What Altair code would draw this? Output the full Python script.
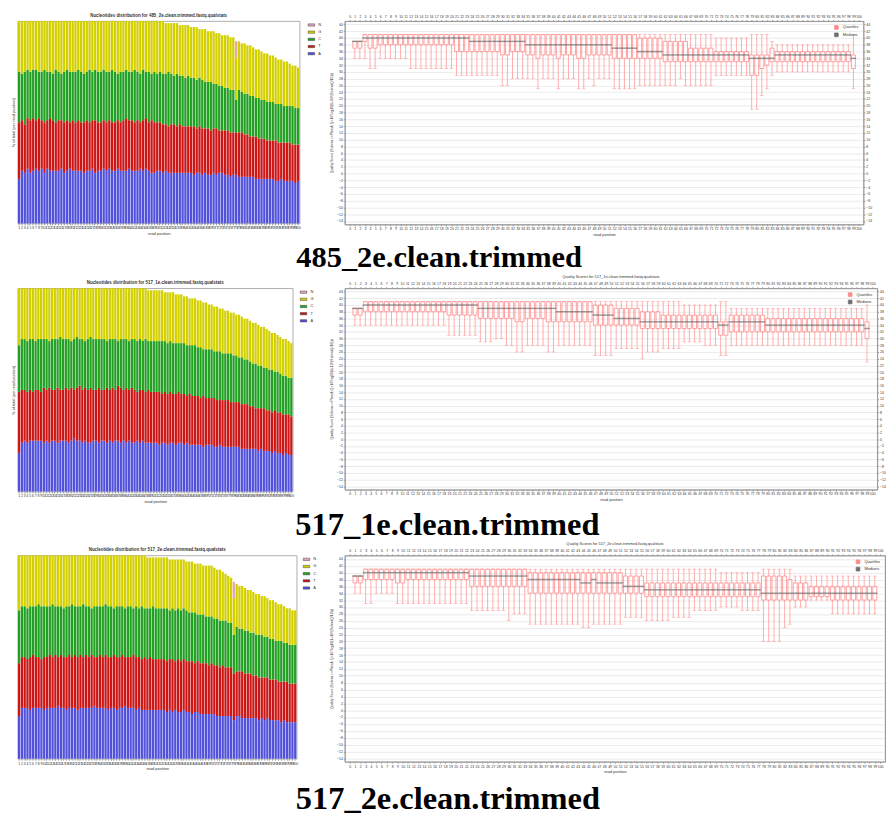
import altair as alt
import pandas as pd

CAPTIONS = ["485_2e.clean.trimmed", "517_1e.clean.trimmed", "517_2e.clean.trimmed"]
NUC_POS = list(range(1, 101))
Q_POS = list(range(1, 100))
Q_XTICKS = list(range(0, 101))
Q_YTICKS = [-14, -12, -10, -8, -6, -4, -2, 0, 2, 4, 6, 8, 10, 12, 14, 16, 18, 20,
            22, 24, 26, 28, 30, 32, 34, 36, 38, 40, 42, 44]
BASE_ORDER = ["N", "G", "C", "T", "A"]
BASE_COLORS = ["#e2a4c2", "#d4d000", "#22a024", "#cc1616", "#5151dc"]

# ---------- nucleotide distribution: cumulative tops (%) per read position ----------
S1_A = [22,26,25,27,25,26,27,26,27,25, 27,26,26,26,26,27,25,26,27,26, 26,26,26,25,26,26,27,25,26,26,
        27,26,27,26,26,27,26,26,26,27, 26,26,26,27,26,27,26,25,25,26, 26,25,26,25,25,25,25,25,25,25,
        25,25,24,25,25,24,25,24,24,25, 24,25,25,24,24,23,24,24,23,23, 23,23,23,23,22,22,22,22,22,22,
        22,21,21,22,21,21,21,21,20,21]
S1_T = [50,51,49,52,51,52,51,52,51,50, 51,52,51,50,51,51,50,51,50,51, 50,51,50,50,51,50,51,51,50,50,
        51,50,51,50,50,51,50,51,52,51, 51,50,51,50,51,52,50,51,50,50, 50,49,49,48,49,49,48,49,48,48,
        48,48,48,47,48,47,47,47,46,47, 47,46,46,46,46,45,45,45,45,45, 44,44,43,43,43,42,42,42,41,41,
        41,41,40,40,40,40,40,39,39,39]
S1_C = [75,74,75,76,75,76,76,75,75,76, 75,75,74,76,75,74,75,76,75,75, 75,76,75,74,75,76,75,76,75,75,
        76,75,75,76,75,74,75,75,76,75, 75,76,75,74,76,75,75,74,75,74, 75,74,74,75,74,73,74,73,73,72,
        73,72,72,71,72,71,70,70,70,69, 69,68,68,67,67,66,66,61,66,65, 64,64,63,63,62,62,61,61,60,60,
        60,59,59,59,58,58,58,58,57,57]
S1_G = [100,100,100,100,100,100,100,100,100,100, 100,100,100,100,100,100,100,100,100,100,
        100,100,100,100,100,100,100,100,100,100, 100,100,100,100,100,100,100,100,100,100,
        100,100,100,100,100,100,100,100,100,100, 100,100,99,99,99,99,99,98,98,98,
        98,97,97,97,96,96,96,95,95,95, 94,94,93,93,93,92,92,82,90,89,
        89,88,88,87,86,86,85,84,84,83, 83,82,81,81,80,80,79,78,78,77]
S1_N = [0,0,0,0,0,0,0,0,0,0, 0,0,0,0,0,0,0,0,0,0, 0,0,0,0,0,0,0,0,0,0, 0,0,0,0,0,0,0,0,0,0,
        0,0,0,0,0,0,0,0,0,0, 0,0,0,0,0,0,0,0,0,0, 0,0,0,0,0,0,0,0,0,0, 0,0,0,0,0,0,0,8,0,0,
        0,0,0,0,0,0,0,0,0,0, 0,0,0,0,0,0,0,0,0,0]

S2_A = [19,24,25,24,25,25,25,25,25,24, 25,24,25,25,24,25,25,25,24,25, 26,25,25,24,25,24,24,25,25,24,
        25,25,24,25,24,25,25,24,25,24, 25,24,24,25,24,25,24,24,24,24, 24,23,24,24,23,24,24,23,24,24,
        23,24,23,23,23,23,23,22,23,23, 23,22,22,23,22,22,22,22,22,22, 22,21,21,21,21,21,21,20,21,20,
        20,20,19,20,19,19,18,19,18,18]
S2_T = [49,50,50,49,50,49,50,50,49,51, 50,51,50,50,51,50,50,51,50,51, 50,51,52,50,51,50,51,50,50,51,
        50,50,51,50,51,50,52,51,50,51, 50,51,50,49,50,50,49,50,49,49, 49,49,48,49,48,49,48,48,49,48,
        48,47,48,47,47,47,46,47,46,46, 46,46,45,45,45,45,45,44,44,44, 44,43,43,43,42,42,41,41,41,41,
        40,40,39,40,39,39,38,38,38,37]
S2_C = [72,75,75,74,75,75,74,75,75,75, 75,74,75,75,75,76,75,75,75,74, 75,76,75,75,74,75,76,75,75,75,
        75,75,74,75,75,75,74,75,75,75, 74,75,75,74,75,74,75,74,74,74, 74,74,74,74,73,74,73,73,73,73,
        73,72,72,72,72,71,71,70,70,70, 70,69,69,69,68,68,68,68,67,67, 66,66,65,65,64,63,63,62,62,61,
        61,60,60,59,59,58,57,57,56,56]
S2_G = [100,100,100,100,100,100,100,100,100,100, 100,100,100,100,100,100,100,100,100,100,
        100,100,100,100,100,100,100,100,100,100, 100,100,100,100,100,100,100,100,100,100,
        100,100,100,100,100,100,100,99,99,99, 99,99,99,98,98,98,98,97,97,97,
        96,96,95,95,95,94,94,93,93,92, 92,91,91,90,90,89,89,88,88,87,
        87,86,85,85,84,83,83,82,81,81, 80,79,78,78,77,76,75,75,74,73]
S2_N = [0,0,0,0,0,0,0,0,0,0, 0,0,0,0,0,0,0,0,0,0, 0,0,0,0,0,0,0,0,0,0, 0,0,0,0,0,0,0,0,0,0,
        0,0,0,0,0,0,0,0,0,0, 0,0,0,0,0,0,0,0,0,0, 0,0,0,0,0,0,0,0,0,0, 0,0,0,0,0,0,0,0,0,0,
        0,0,0,0,0,0,0,0,0,0, 0,0,0,0,0,0,0,0,0,0]

S3_A = [21,25,25,25,24,25,25,25,25,24, 25,25,25,25,26,25,25,24,25,25, 25,24,25,25,25,25,25,26,25,25,
        25,25,24,25,25,24,25,25,26,25, 25,25,24,25,24,24,24,24,24,24, 24,24,24,23,24,23,24,23,23,24,
        23,23,22,23,23,22,22,22,22,22, 22,21,21,21,21,21,21,19,21,21, 20,20,20,20,20,20,19,20,19,20,
        19,19,19,19,18,19,18,18,18,18]
S3_T = [47,50,50,49,50,51,50,50,49,50, 50,51,50,51,50,51,50,50,51,50, 51,50,51,50,51,50,51,50,50,51,
        50,51,50,50,51,50,50,51,50,50, 50,51,50,50,49,50,49,50,49,49, 49,49,49,48,49,49,48,49,48,49,
        48,48,48,47,48,47,47,47,46,47, 46,46,45,46,45,45,45,42,43,43, 43,42,42,42,41,41,40,40,40,40,
        39,39,39,38,38,38,38,37,37,37]
S3_C = [73,75,75,74,75,75,75,76,75,75, 75,75,76,75,75,75,74,75,75,76, 75,75,75,76,75,75,74,75,75,75,
        75,76,75,75,74,75,75,75,74,75, 75,74,75,74,75,74,74,74,75,74, 74,74,74,74,73,74,73,74,73,74,
        73,72,72,72,71,71,71,70,70,70, 69,69,68,68,68,67,67,61,65,64, 64,63,63,62,62,61,61,61,60,60,
        59,59,58,58,58,57,57,56,56,56]
S3_G = [100,100,100,100,100,100,100,100,100,100, 100,100,100,100,100,100,100,100,100,100,
        100,100,100,100,100,100,100,100,100,100, 100,100,100,100,100,100,100,100,100,100,
        100,100,100,100,100,100,99,99,99,99, 99,99,99,99,98,98,98,98,98,98,
        97,97,97,96,96,96,95,95,95,95, 94,93,93,92,91,90,89,79,86,85,
        85,84,83,83,82,81,81,80,80,79, 78,78,77,76,76,75,74,74,73,73]
S3_N = [0,0,0,0,0,0,0,0,0,0, 0,0,0,0,0,0,0,0,0,0, 0,0,0,0,0,0,0,0,0,0, 0,0,0,0,0,0,0,0,0,0,
        0,0,0,0,0,0,0,0,0,0, 0,0,0,0,0,0,0,0,0,0, 0,0,0,0,0,0,0,0,0,0, 0,0,0,0,0,0,0,8,0,0,
        0,0,0,0,0,0,0,0,0,0, 0,0,0,0,0,0,0,0,0,0]

# ---------- quality boxplots: whisker low, Q1, median, Q3, whisker high ----------
Q1_LO = [34,34,34,31,31,34,34,34,34,34, 34,31,31,31,31,31,31,31,31,31, 29,29,29,29,29,29,29,29,29,26,
         26,28,28,28,28,28,25,28,28,28, 25,28,28,28,25,25,28,26,28,28, 28,25,25,25,25,25,26,26,26,26,
         26,26,26,26,28,26,26,26,26,26, 26,29,29,29,29,29,29,29,19,19, 23,25,29,30,30,30,30,30,30,30,
         30,30,30,30,30,30,30,30,25]
Q1_Q1 = [37,37,39,37,37,38,38,38,38,38, 38,38,38,38,38,38,38,38,38,38, 36,36,36,36,36,36,36,36,36,35,
         35,36,36,36,35,35,34,35,35,35, 34,35,35,35,34,34,35,35,35,35, 35,34,34,34,34,34,34,34,34,34,
         34,33,33,33,33,33,33,33,33,33, 33,33,33,33,33,33,33,33,29,29, 31,32,33,33,33,33,33,33,33,33,
         33,33,33,33,33,33,33,33,31]
Q1_MED = [39,39,40,40,40,40,40,40,40,40, 40,40,40,40,40,40,40,40,40,40, 40,40,40,39,39,39,39,39,39,39,
          39,39,39,39,38,38,38,38,38,38, 38,38,38,38,38,38,38,38,38,38, 38,37,37,37,37,37,36,36,36,36,
          36,35,35,35,35,35,35,35,35,35, 35,35,35,35,35,35,35,35,34,34, 34,34,34,35,35,35,35,35,35,35,
          35,35,35,35,35,35,35,35,34]
Q1_Q3 = [39,39,41,41,41,41,41,41,41,41, 41,41,41,41,41,41,41,41,41,41, 41,41,41,41,41,41,41,41,41,41,
         41,41,41,41,41,41,41,41,41,41, 41,41,41,41,41,41,41,41,41,41, 41,41,41,41,41,41,40,40,40,40,
         40,39,39,39,39,39,37,37,37,37, 37,36,36,36,36,36,36,36,35,35, 35,35,37,36,36,36,36,36,36,36,
         36,36,36,36,36,36,36,36,35]
Q1_HI = [39,39,41,41,41,41,41,41,41,41, 41,41,41,41,41,41,41,41,41,41, 41,41,41,41,41,41,41,41,41,41,
         41,41,41,41,41,41,41,41,41,41, 41,41,41,41,41,41,41,41,41,41, 41,41,41,41,41,41,41,41,41,41,
         41,41,41,41,41,41,41,41,41,41, 41,40,40,40,40,40,40,40,41,41, 41,41,39,38,38,38,38,38,38,38,
         38,38,38,38,38,38,38,38,41]

Q2_LO = [34,34,34,34,34,34,34,34,34,34, 34,34,34,34,34,34,34,34,31,31, 31,31,31,31,29,29,29,30,30,28,
         28,26,26,28,28,28,28,26,26,28, 28,28,28,28,28,28,25,25,25,25, 27,27,27,27,27,24,26,26,26,27,
         27,27,27,29,29,29,29,28,28,28, 25,25,28,28,28,28,28,28,28,28, 28,28,28,28,28,28,28,28,28,28,
         28,28,28,28,28,28,28,28,23]
Q2_Q1 = [37,37,38,38,38,38,38,38,38,38, 38,38,38,38,38,38,38,38,37,37, 37,37,37,37,36,36,36,36,36,36,
         36,35,35,36,36,36,36,35,35,35, 35,35,35,35,35,35,34,34,34,34, 34,34,34,34,34,33,33,33,33,33,
         33,33,33,33,33,33,33,33,33,33, 31,31,32,32,32,32,32,32,32,32, 32,32,32,32,32,32,32,32,32,32,
         32,32,32,32,32,32,32,32,30]
Q2_MED = [39,39,40,40,40,40,40,40,40,40, 40,40,40,40,40,40,40,40,40,40, 40,40,40,40,39,39,39,39,39,39,
          39,39,39,39,39,39,39,39,39,38, 38,38,38,38,38,38,37,37,37,37, 36,36,36,36,36,35,35,35,35,35,
          35,35,35,35,35,35,35,35,35,35, 34,34,35,35,35,35,35,35,35,34, 34,34,34,34,34,34,34,34,34,34,
          34,34,34,34,34,34,34,34,33]
Q2_Q3 = [39,39,41,41,41,41,41,41,41,41, 41,41,41,41,41,41,41,41,41,41, 41,41,41,41,41,41,41,41,41,41,
         41,41,41,41,41,41,41,41,41,41, 41,41,41,41,41,41,40,40,40,40, 39,39,39,39,39,38,38,38,38,37,
         37,37,37,37,37,37,37,37,37,37, 35,35,37,37,37,37,37,37,37,36, 36,36,36,36,36,36,36,36,36,36,
         36,36,36,36,36,36,36,36,35]
Q2_HI = [39,39,41,41,41,41,41,41,41,41, 41,41,41,41,41,41,41,41,41,41, 41,41,41,41,41,41,41,41,41,41,
         41,41,41,41,41,41,41,41,41,41, 41,41,41,41,41,41,41,41,41,41, 41,41,41,41,41,41,41,41,41,41,
         41,41,41,40,40,40,40,40,40,40, 41,41,39,39,39,39,39,39,39,39, 39,39,39,39,39,39,39,39,39,39,
         39,39,39,39,39,39,39,39,40]

Q3_LO = [34,34,31,31,34,34,34,34,31,31, 31,31,31,31,31,31,31,31,31,31, 31,31,29,29,29,29,29,29,29,26,
         28,28,28,25,25,25,25,25,25,25, 25,25,25,24,24,25,25,25,25,25, 25,27,27,27,27,26,26,26,26,26,
         27,27,27,27,29,29,29,29,29,30, 30,30,30,29,29,29,29,20,20,20, 20,24,25,30,30,30,32,32,32,32,
         28,28,28,28,28,28,28,28,28]
Q3_Q1 = [37,37,38,38,38,38,38,38,37,37, 38,38,38,38,38,38,38,38,38,38, 38,38,36,36,36,36,36,36,36,36,
         36,36,36,34,34,34,34,34,34,34, 34,34,34,34,34,34,34,34,34,34, 34,34,34,34,34,33,33,33,33,33,
         33,33,33,33,33,33,33,33,33,33, 33,33,33,33,33,33,33,32,32,32, 32,32,32,32,32,32,33,33,33,33,
         32,32,32,32,32,32,32,32,32]
Q3_MED = [39,39,40,40,40,40,40,40,40,40, 40,40,40,40,40,40,40,40,40,40, 40,40,39,39,39,39,39,39,39,39,
          39,39,39,38,38,38,38,38,38,38, 38,38,38,37,37,38,37,37,37,37, 37,36,36,36,36,35,35,35,35,35,
          35,35,35,35,35,35,35,35,35,35, 35,35,35,35,35,35,35,34,34,34, 34,34,34,34,34,34,34,34,34,34,
          34,34,34,34,34,34,34,34,34]
Q3_Q3 = [39,39,41,41,41,41,41,41,41,41, 41,41,41,41,41,41,41,41,41,41, 41,41,41,41,41,41,41,41,41,41,
         41,41,41,40,40,40,40,40,40,40, 40,40,40,40,40,40,40,40,40,40, 40,39,39,39,39,37,37,37,37,37,
         37,37,37,37,37,37,37,37,37,37, 37,37,37,37,37,37,37,39,39,39, 39,39,38,37,37,37,36,36,36,36,
         36,36,36,36,36,36,36,36,36]
Q3_HI = [39,39,41,41,41,41,41,41,41,41, 41,41,41,41,41,41,41,41,41,41, 41,41,41,41,41,41,41,41,41,41,
         41,41,41,41,41,41,41,41,41,41, 41,41,41,41,41,41,41,41,41,41, 41,41,41,41,41,41,41,41,41,41,
         41,41,41,41,41,41,41,41,41,40, 40,40,40,40,40,40,40,41,41,41, 41,41,41,39,39,39,39,39,39,39,
         39,39,39,39,39,39,39,39,39]

FONT = "Liberation Sans"
PINK = "#ff8a8a"
MED_GRAY = "#707070"
TXT = "#333333"


def nuc_frame(a, t, c, g, n):
    rows = []
    for i, p in enumerate(NUC_POS):
        bounds = [0, a[i], t[i], c[i], g[i], g[i] + n[i]]
        for k, b in enumerate(["A", "T", "C", "G", "N"]):
            lo, hi = bounds[k], bounds[k + 1]
            if hi > lo:
                rows.append({"pos": p, "base": b, "lo": lo, "hi": hi})
    return pd.DataFrame(rows)


def nuc_chart(name, a, t, c, g, n, width, height, ytitle, legend_offset):
    df = nuc_frame(a, t, c, g, n)
    yaxis_kw = dict(labels=False, ticks=False, grid=False, domain=False,
                    titleFontSize=4, titlePadding=2, titleColor=TXT)
    yaxis_kw["title"] = "% of total (per read position)" if ytitle else ""
    return alt.Chart(
        df,
        title=alt.TitleParams(f"Nucleotides distribution for {name}.fastq.qualstats",
                              fontSize=4.5, font=FONT, fontWeight="bold", color=TXT, offset=4),
    ).mark_bar().encode(
        x=alt.X("pos:O", title="read position",
                scale=alt.Scale(paddingInner=0.18, paddingOuter=0.1),
                axis=alt.Axis(labelFontSize=3.5, labelAngle=0, labelOverlap=False, labelPadding=1,
                              tickSize=1.5, titleFontSize=4, titlePadding=2, domain=False,
                              labelColor=TXT, titleColor=TXT)),
        y=alt.Y("lo:Q", scale=alt.Scale(domain=[0, 100], nice=False), axis=alt.Axis(**yaxis_kw)),
        y2="hi:Q",
        color=alt.Color("base:N", scale=alt.Scale(domain=BASE_ORDER, range=BASE_COLORS),
                        legend=alt.Legend(title=None, orient="right", offset=legend_offset,
                                          labelFontSize=4, labelColor=TXT,
                                          symbolType="M-1,-0.35H1V0.35H-1Z", symbolSize=45,
                                          symbolStrokeWidth=0.5, symbolStrokeColor="#444",
                                          rowPadding=0.3, padding=0, labelOffset=3)),
    ).properties(width=width, height=height)


def qual_chart(name, lo, q1, med, q3, hi, width, height, show_title, right_axis):
    df = pd.DataFrame({"pos": Q_POS, "lo": lo, "q1": q1, "med": med, "q3": q3, "hi": hi,
                       "qk": "Quartiles", "mk": "Medians"})
    xs = alt.Scale(domain=[0, 100], nice=False)
    ys = alt.Scale(domain=[-15, 45], nice=False)
    cs = alt.Scale(domain=["Quartiles", "Medians"], range=[PINK, MED_GRAY])
    leg = alt.Legend(title=None, orient="top-right", offset=3, labelFontSize=4, labelColor=TXT,
                     symbolType="square", symbolSize=14, symbolStrokeWidth=0.8,
                     symbolFillColor="#ffffff", rowPadding=0.5, padding=1)
    xn = alt.X("pos:Q", scale=xs, axis=None)
    base = alt.Chart(df)
    whisk_lo = base.mark_rule(color=PINK, strokeWidth=0.7).encode(
        x=alt.X("pos:Q", scale=xs,
                axis=alt.Axis(values=Q_XTICKS, title="read position", labelFontSize=3.5,
                              labelOverlap=False, labelPadding=1, tickSize=1.5, titleFontSize=4,
                              titlePadding=2, grid=False, labelColor=TXT, titleColor=TXT)),
        y=alt.Y("lo:Q", scale=ys,
                axis=alt.Axis(values=Q_YTICKS,
                              title="Quality Score (Solexa =>Phred: Q=10*log10(1+10^(SolexaQ/10)))",
                              labelFontSize=3.5, labelPadding=1, tickSize=1.5, titleFontSize=3.5,
                              titlePadding=3, grid=True, gridColor="#dcdcdc", gridWidth=0.6,
                              labelColor=TXT, titleColor=TXT)),
        y2="q1:Q",
    )
    whisk_hi = base.mark_rule(color=PINK, strokeWidth=0.7).encode(
        x=xn, y=alt.Y("q3:Q", scale=ys, axis=None), y2="hi:Q")
    cap_lo = base.mark_tick(color=PINK, orient="horizontal", size=3.5, thickness=0.7).encode(
        x=xn, y=alt.Y("lo:Q", scale=ys, axis=None))
    cap_hi = base.mark_tick(color=PINK, orient="horizontal", size=3.5, thickness=0.7).encode(
        x=xn, y=alt.Y("hi:Q", scale=ys, axis=None))
    box = base.mark_bar(filled=False, strokeWidth=0.8, size=4, orient="vertical").encode(
        x=xn, y=alt.Y("q1:Q", scale=ys, axis=None), y2="q3:Q",
        color=alt.Color("qk:N", scale=cs, legend=leg))
    median = base.mark_tick(orient="horizontal", size=5.6, thickness=1.5).encode(
        x=xn, y=alt.Y("med:Q", scale=ys, axis=None),
        color=alt.Color("mk:N", scale=cs, legend=leg))
    right_kw = dict(orient="right", values=Q_YTICKS, title="", labelFontSize=3.5,
                    labelPadding=1, tickSize=1.5, grid=False, labelColor=TXT)
    if not right_axis:
        right_kw["labels"] = False
        right_kw["ticks"] = False
    axes2 = base.mark_tick(opacity=0).encode(
        x=alt.X("pos:Q", scale=xs,
                axis=alt.Axis(orient="top", values=Q_XTICKS, title="", labelFontSize=3.5,
                              labelOverlap=False, labelPadding=1, tickSize=1.5, grid=False,
                              labelColor=TXT)),
        y=alt.Y("med:Q", scale=ys, axis=alt.Axis(**right_kw)),
    )
    kw = {}
    if show_title:
        kw["title"] = alt.TitleParams(f"Quality Scores for {name}.fastq.qualstats",
                                      fontSize=4, font=FONT, fontWeight="normal", color=TXT,
                                      offset=3)
    return alt.layer(whisk_lo, whisk_hi, cap_lo, cap_hi, box, median, axes2, **kw).resolve_axis(
        x="independent", y="independent").properties(width=width, height=height)


def spacer(w, h, cap=None, dx=0, offset=0, size=31):
    kw = {}
    if cap is not None:
        kw["title"] = alt.TitleParams(cap, orient="bottom", anchor="middle", fontSize=size,
                                      font="Liberation Serif", fontWeight="bold",
                                      color="#000000", offset=offset, dx=dx, limit=2000)
    return alt.Chart(pd.DataFrame({"v": [0]}), **kw).mark_point(opacity=0).encode(
        x=alt.X("v:Q", axis=None), y=alt.Y("v:Q", axis=None)
    ).properties(width=w, height=h, view=alt.ViewBackground(stroke="transparent"))


# layout: left padding 3; each row = [spacer, nucleotides, spacer(+caption), quality]
nuc1 = nuc_chart(CAPTIONS[0], S1_A, S1_T, S1_C, S1_G, S1_N, 287, 206, True, 8)
nuc2 = nuc_chart(CAPTIONS[1], S2_A, S2_T, S2_C, S2_G, S2_N, 280, 207, True, 7)
nuc3 = nuc_chart(CAPTIONS[2], S3_A, S3_T, S3_C, S3_G, S3_N, 284, 207, False, 6)

qual1 = qual_chart(CAPTIONS[0], Q1_LO, Q1_Q1, Q1_MED, Q1_Q3, Q1_HI, 528, 207, False, True)
qual2 = qual_chart(CAPTIONS[1], Q2_LO, Q2_Q1, Q2_MED, Q2_Q3, Q2_HI, 542, 205, True, True)
qual3 = qual_chart(CAPTIONS[2], Q3_LO, Q3_Q1, Q3_MED, Q3_Q3, Q3_HI, 550, 210, True, False)

cells = [
    spacer(12, 1), nuc1, spacer(46, 207, CAPTIONS[0], dx=119, offset=19, size=31), qual1,
    spacer(10, 1), nuc2, spacer(43, 205, CAPTIONS[1], dx=129, offset=20, size=33), qual2,
    spacer(1, 1), nuc3, spacer(44, 210, CAPTIONS[2], dx=129, offset=22, size=33), qual3,
]

chart = alt.concat(*cells, columns=4, spacing={"row": 65, "column": 0}, bounds="flush",
                   align="none").resolve_scale(color="independent").properties(
    padding={"left": 3, "top": 5, "right": 0, "bottom": 0}
).configure(font=FONT).configure_view(stroke="#9a9a9a", strokeWidth=0.8).configure_axis(
    domainColor="#999999", tickColor="#999999", labelFont=FONT, titleFont=FONT,
    titleFontWeight="normal"
).configure_legend(labelFont=FONT)

chart.save("out.html", embed_options={"renderer": "svg", "actions": False})
